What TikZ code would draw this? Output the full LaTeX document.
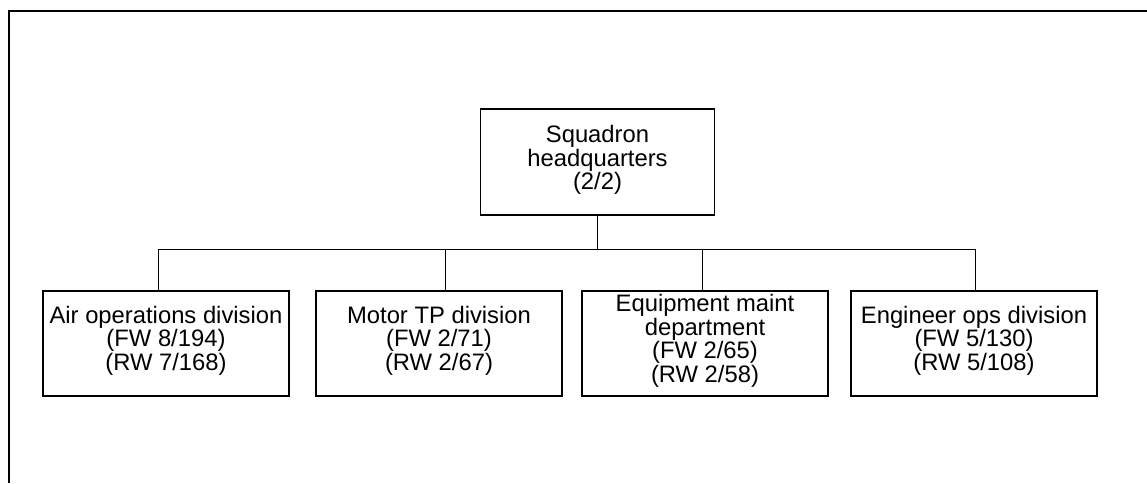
\documentclass[tikz,border=0pt]{standalone}
\usepackage{fontspec}
\setmainfont{Liberation Sans}
\newcommand{\lowpad}[1]{\rule[-#1]{0pt}{0pt}}
\begin{document}
\begin{tikzpicture}[x=1pt,y=-1pt,
  unitbox/.style={draw, line width=1.3pt, rectangle, align=center, inner sep=0pt,
    minimum width=246pt, minimum height=105pt,
    font=\fontsize{23.8}{23.5}\selectfont},
  link/.style={line width=1pt}]
\useasboundingbox (0,0) rectangle (1147,483);
\draw[line width=2pt] (9,483) -- (9,11) -- (1148,11);
\node[unitbox, minimum width=234pt, minimum height=106pt] (hq) at (597.5,162) {Squadron\\headquarters\\(2/2)\lowpad{9pt}};
\node[unitbox] (a) at (166,343.5) {Air operations division\\(FW 8/194)\\(RW 7/168)\lowpad{11pt}};
\node[unitbox] (b) at (439,343.5) {Motor TP division\\(FW 2/71)\\(RW 2/67)\lowpad{11pt}};
\node[unitbox] (c) at (705,343.5) {Equipment maint\\department\\(FW 2/65)\\(RW 2/58)\lowpad{10pt}};
\node[unitbox] (d) at (974,343.5) {Engineer ops division\\(FW 5/130)\\(RW 5/108)\lowpad{11pt}};
\coordinate (bus) at (597.5,249);
\draw[link] (hq.south) -- (bus);
\draw[link] (bus) -| ([xshift=-8pt]a.north);
\draw[link] (bus) -| ([xshift=6pt]b.north);
\draw[link] (bus) -| ([xshift=-3pt]c.north);
\draw[link] (bus) -| ([xshift=1pt]d.north);
\end{tikzpicture}
\end{document}
